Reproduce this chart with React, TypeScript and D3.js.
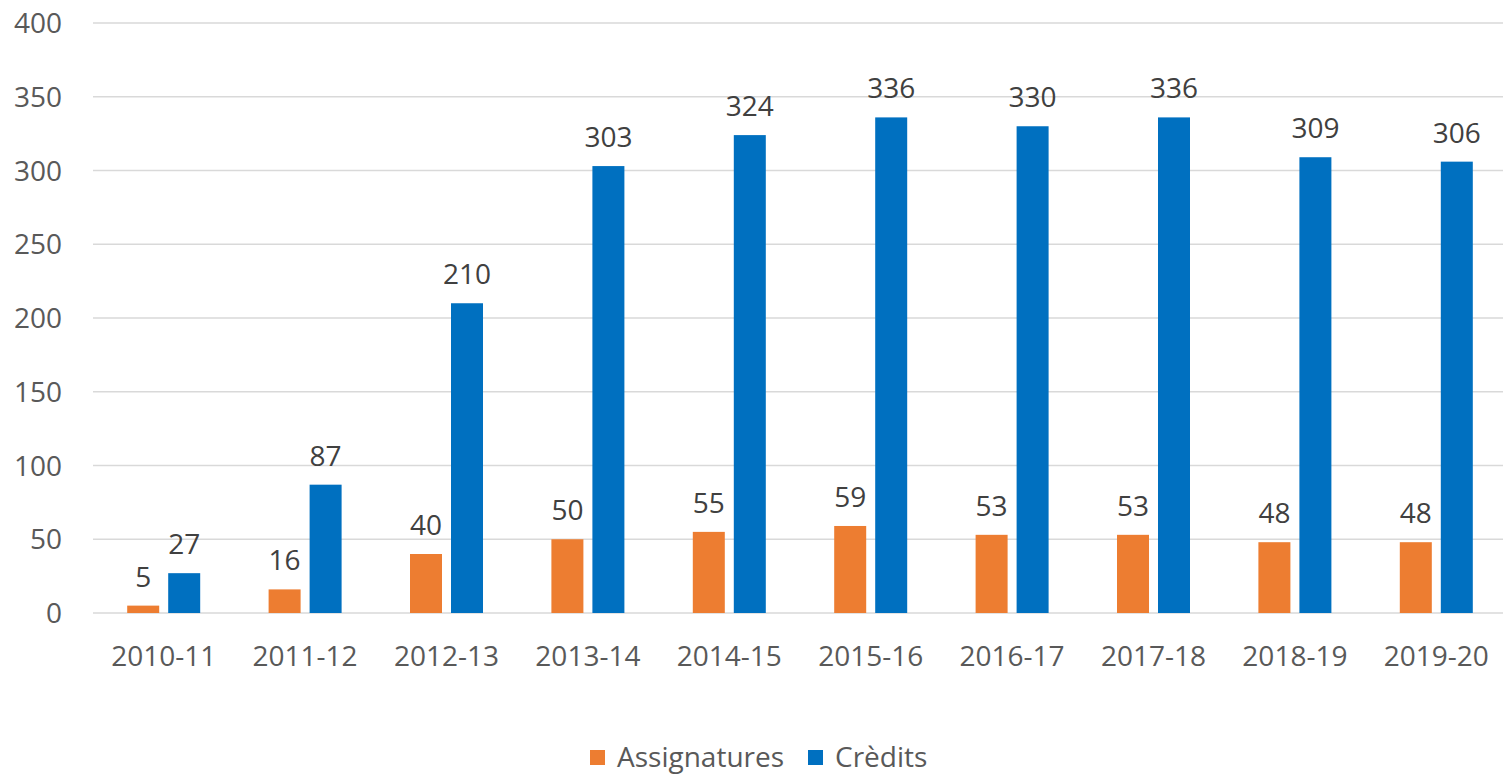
import React, { useEffect, useRef } from "react";
import * as d3 from "d3";

const years = ["2010-11", "2011-12", "2012-13", "2013-14", "2014-15", "2015-16", "2016-17", "2017-18", "2018-19", "2019-20"];
const assignatures = [5, 16, 40, 50, 55, 59, 53, 53, 48, 48];
const credits = [27, 87, 210, 303, 324, 336, 330, 336, 309, 306];
const yTicks = [0, 50, 100, 150, 200, 250, 300, 350, 400];
const seriesNames = ["Assignatures", "Crèdits"];
const colors = ["#ED7D31", "#0070C0"];

const App = () => {
  const svgRef = useRef<SVGSVGElement>(null);

  useEffect(() => {
    const width = 1503;
    const height = 775;
    const margin = { top: 23, right: -4, bottom: 162, left: 93 };
    const font = "'Open Sans', sans-serif";
    const fs = "28px";

    const svg = d3.select(svgRef.current);
    svg.selectAll("*").remove();

    const x = d3.scaleBand()
      .domain(years)
      .range([margin.left, width - margin.right]);

    const y = d3.scaleLinear()
      .domain([0, 400])
      .range([height - margin.bottom, margin.top]);

    const barW = 32;
    const gap = 9;

    // Gridlines
    svg.append("g")
      .selectAll("line")
      .data(yTicks)
      .join("line")
      .attr("x1", margin.left)
      .attr("x2", width - margin.right)
      .attr("y1", d => y(d))
      .attr("y2", d => y(d))
      .attr("stroke", "#d9d9d9")
      .attr("stroke-width", 1.3);

    // Y tick labels
    svg.append("g")
      .selectAll("text")
      .data(yTicks)
      .join("text")
      .attr("x", 62)
      .attr("y", d => y(d))
      .attr("dy", "0.36em")
      .attr("text-anchor", "end")
      .attr("fill", "#595959")
      .style("font-family", font)
      .style("font-size", fs)
      .text(d => d);

    // X tick labels
    svg.append("g")
      .selectAll("text")
      .data(years)
      .join("text")
      .attr("x", d => x(d)! + x.bandwidth() / 2)
      .attr("y", 666)
      .attr("text-anchor", "middle")
      .attr("fill", "#595959")
      .style("font-family", font)
      .style("font-size", fs)
      .text(d => d);

    const series = [assignatures, credits];
    series.forEach((vals, si) => {
      const offset = si === 0 ? -gap / 2 - barW : gap / 2;
      const g = svg.append("g");
      g.selectAll("rect")
        .data(vals)
        .join("rect")
        .attr("x", (d, i) => x(years[i])! + x.bandwidth() / 2 + offset)
        .attr("y", d => y(d))
        .attr("width", barW)
        .attr("height", d => y(0) - y(d))
        .attr("fill", colors[si]);

      g.selectAll("text")
        .data(vals)
        .join("text")
        .attr("x", (d, i) => x(years[i])! + x.bandwidth() / 2 + offset + barW / 2)
        .attr("y", d => y(d) - 19)
        .attr("text-anchor", "middle")
        .attr("fill", "#404040")
        .style("font-family", font)
        .style("font-size", fs)
        .text(d => d);
    });

    // Legend
    const legendPos = [590, 808];
    seriesNames.forEach((name, i) => {
      svg.append("rect")
        .attr("x", legendPos[i])
        .attr("y", 750)
        .attr("width", 15)
        .attr("height", 15)
        .attr("fill", colors[i]);
      svg.append("text")
        .attr("x", legendPos[i] + 27)
        .attr("y", 767)
        .attr("fill", "#595959")
        .style("font-family", font)
        .style("font-size", fs)
        .text(name);
    });
  }, []);

  return (
    <div style={{ position: "absolute", left: 0, top: 0, width: 1503, height: 775, overflow: "hidden", background: "#fff" }}>
      <svg ref={svgRef} width={1503} height={775} style={{ display: "block" }}></svg>
    </div>
  );
};

export default App;
